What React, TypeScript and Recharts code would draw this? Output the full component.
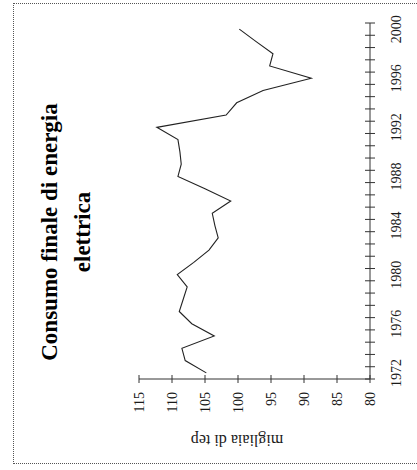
import React from 'react';
import { LineChart, Line, XAxis, YAxis } from 'recharts';

// Consumo finale di energia elettrica, migliaia di tep
const years = [
  1972, 1973, 1974, 1975, 1976, 1977, 1978, 1979, 1980, 1981,
  1982, 1983, 1984, 1985, 1986, 1987, 1988, 1989, 1990, 1991,
  1992, 1993, 1994, 1995, 1996, 1997, 1998, 1999, 2000,
];
const consumo = [
  104.8, 108.0, 108.5, 103.6, 107.0, 108.9, 108.3, 107.7, 109.2, 106.7,
  104.4, 103.0, 103.5, 103.9, 101.1, 105.0, 109.1, 108.6, 108.8, 109.1,
  112.3, 101.8, 100.2, 96.2, 88.9, 95.2, 94.7, 97.3, 99.8,
];
const yearLabels = [1972, 1976, 1980, 1984, 1988, 1992, 1996, 2000];
const valueTicks = [80, 85, 90, 95, 100, 105, 110, 115];
const titleLines = ['Consumo finale di energia', 'elettrica'];
const unitLabel = 'migliaia di tep';

const data = years.map((year, i) => ({ year, value: consumo[i] }));
// tick marks sit between the years, labels on every fourth year
const yearTicks = [
  ...years.map((y) => y - 0.5),
  years[years.length - 1] + 0.5,
  ...yearLabels,
];

const FONT = '"Liberation Serif", "Times New Roman", serif';
const INK = '#1a1a1a';

// the chart is drawn upright, then the whole page is turned a quarter turn
const W = 470;
const H = 417;

function YearTick({ x, y, payload }: any) {
  const v = payload.value;
  if (!Number.isInteger(v)) {
    return <line x1={x} x2={x} y1={y - 5} y2={y + 5} stroke="#333" strokeWidth={1} />;
  }
  return (
    <text x={x} y={y + 31} textAnchor="middle" fontFamily={FONT} fontSize={14} fill={INK}>
      {v}
    </text>
  );
}

function ValueTick({ x, y, payload }: any) {
  const axisX = x + 13;
  return (
    <g>
      <line x1={axisX - 4} x2={axisX + 4} y1={y} y2={y} stroke="#333" strokeWidth={1} />
      <text x={x} y={y} dy="0.35em" textAnchor="end" fontFamily={FONT} fontSize={14} fill={INK}>
        {payload.value}
      </text>
    </g>
  );
}

export default function App() {
  return (
    <div
      style={{
        position: 'absolute',
        left: 0,
        top: 0,
        width: 417,
        height: 470,
        overflow: 'hidden',
        background: '#fff',
      }}
    >
      <div
        style={{
          position: 'absolute',
          left: 0,
          top: 0,
          width: W,
          height: H,
          transformOrigin: '0 0',
          transform: `translateY(${W}px) rotate(-90deg)`,
        }}
      >
        <div
          style={{
            position: 'absolute',
            left: 6,
            top: 13,
            width: 461,
            height: 430,
            border: '1px dotted #555',
            boxSizing: 'border-box',
          }}
        />
        <div
          style={{
            position: 'absolute',
            left: 3,
            top: 33,
            width: W,
            textAlign: 'center',
            fontFamily: FONT,
            fontWeight: 'bold',
            fontSize: 23,
            lineHeight: '33px',
            color: '#000',
          }}
        >
          {titleLines.map((t) => (
            <div key={t}>{t}</div>
          ))}
        </div>
        <div
          style={{
            position: 'absolute',
            left: 30,
            top: 237,
            transform: 'translate(-50%, -50%) rotate(-90deg)',
            whiteSpace: 'nowrap',
            fontFamily: FONT,
            fontSize: 16,
            color: INK,
          }}
        >
          {unitLabel}
        </div>
        <LineChart
          width={W}
          height={H}
          data={data}
          margin={{ top: 139, right: 23, bottom: 7, left: 31 }}
          style={{ position: 'absolute', left: 0, top: 0 }}
        >
          <XAxis
            dataKey="year"
            type="number"
            domain={[1971.5, 2000.5]}
            ticks={yearTicks}
            interval={0}
            height={40}
            tickSize={0}
            tickMargin={0}
            tickLine={false}
            tick={<YearTick />}
            axisLine={{ stroke: '#333', strokeWidth: 1 }}
          />
          <YAxis
            type="number"
            domain={[80, 115]}
            ticks={valueTicks}
            interval={0}
            width={60}
            tickSize={0}
            tickMargin={13}
            tickLine={false}
            tick={<ValueTick />}
            axisLine={{ stroke: '#333', strokeWidth: 1 }}
          />
          <Line
            type="linear"
            dataKey="value"
            stroke="#222"
            strokeWidth={1.1}
            dot={false}
            isAnimationActive={false}
          />
        </LineChart>
      </div>
    </div>
  );
}
